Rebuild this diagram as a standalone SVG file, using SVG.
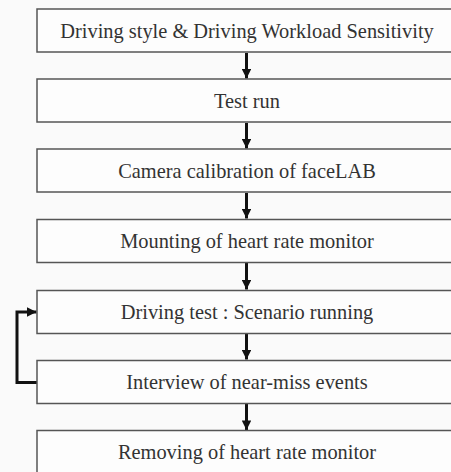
<svg xmlns="http://www.w3.org/2000/svg" width="451" height="472" viewBox="0 0 451 472">
<style>
.box{fill:#fdfdfd;stroke:#555;stroke-width:1.5}
.lbl{font-family:"Liberation Serif","Times New Roman",serif;font-size:20.4px;fill:#333;text-anchor:middle}
.con{stroke:#111;stroke-width:3;fill:none}
</style>
<defs>
<marker id="ah" viewBox="0 0 10 10" refX="10" refY="5" markerWidth="3.2" markerHeight="3.2" orient="auto" markerUnits="strokeWidth">
<path d="M0,0L10,5L0,10z" fill="#111"/>
</marker>
</defs>
<rect width="451" height="472" fill="#fafafa"/>
<g id="connectors">
<line class="con" x1="246.5" y1="53" x2="246.5" y2="78.5" marker-end="url(#ah)"/>
<line class="con" x1="246.5" y1="123" x2="246.5" y2="148.5" marker-end="url(#ah)"/>
<line class="con" x1="246.5" y1="193" x2="246.5" y2="218.5" marker-end="url(#ah)"/>
<line class="con" x1="246.5" y1="263" x2="246.5" y2="289.5" marker-end="url(#ah)"/>
<line class="con" x1="246.5" y1="334" x2="246.5" y2="359.5" marker-end="url(#ah)"/>
<line class="con" x1="246.5" y1="404" x2="246.5" y2="430" marker-end="url(#ah)"/>
<path class="con" d="M37,382.5H17V312H36.5" marker-end="url(#ah)"/>
</g>
<g id="n1"><rect class="box" x="37" y="9" width="425" height="43"/><text class="lbl" x="247" y="37.5">Driving style &amp; Driving Workload Sensitivity</text></g>
<g id="n2"><rect class="box" x="37" y="79" width="425" height="43"/><text class="lbl" x="247" y="107.5">Test run</text></g>
<g id="n3"><rect class="box" x="37" y="149" width="425" height="43"/><text class="lbl" x="247" y="177.5">Camera calibration of faceLAB</text></g>
<g id="n4"><rect class="box" x="37" y="219.5" width="425" height="43"/><text class="lbl" x="247" y="248">Mounting of heart rate monitor</text></g>
<g id="n5"><rect class="box" x="37" y="290.5" width="425" height="43"/><text class="lbl" x="247" y="319">Driving test : Scenario running</text></g>
<g id="n6"><rect class="box" x="37" y="360.5" width="425" height="43"/><text class="lbl" x="247" y="389">Interview of near-miss events</text></g>
<g id="n7"><rect class="box" x="37" y="430.5" width="425" height="43"/><text class="lbl" x="247" y="459">Removing of heart rate monitor</text></g>
</svg>
